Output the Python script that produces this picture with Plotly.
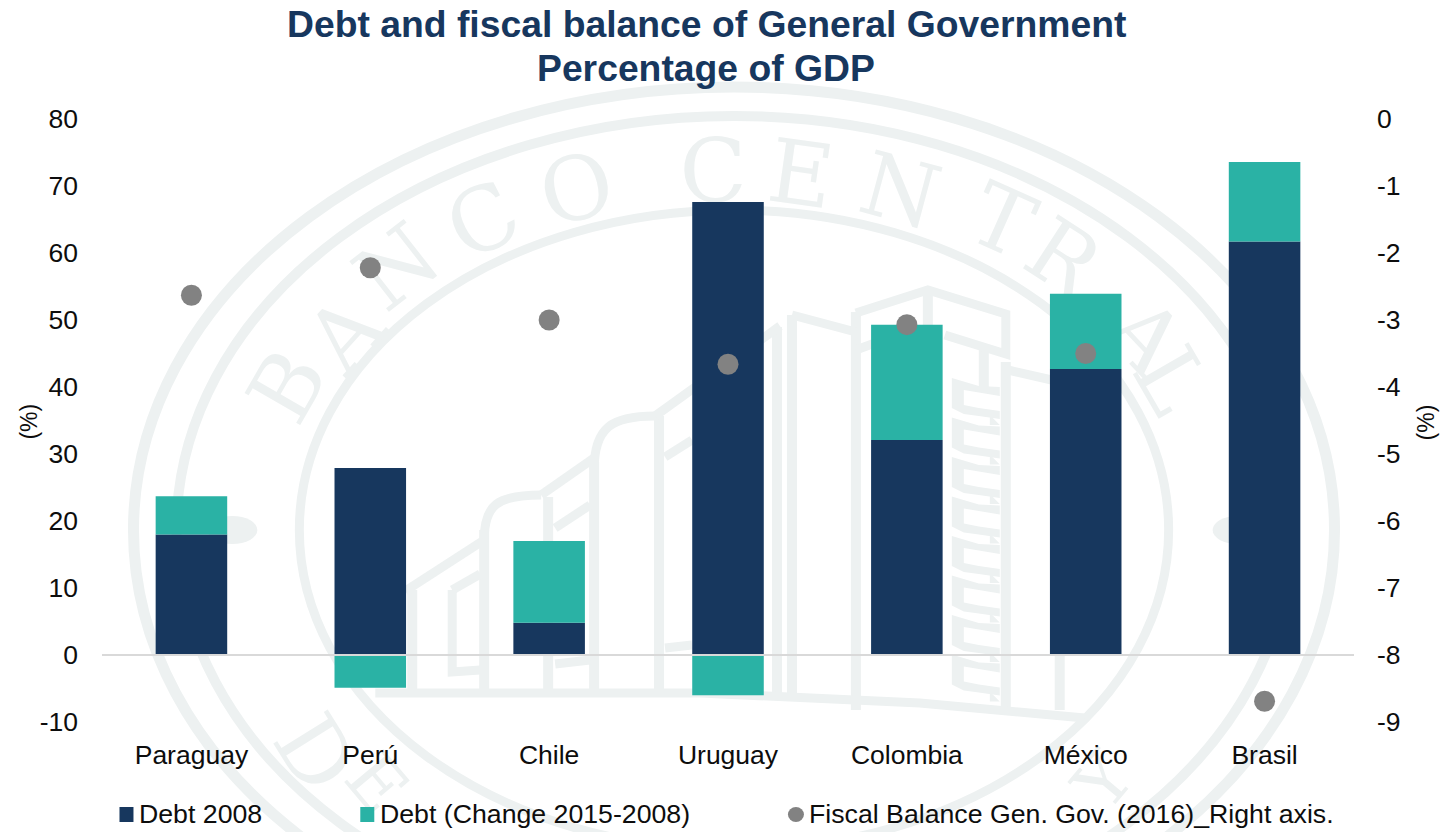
import plotly.graph_objects as go

# ---- chart data -------------------------------------------------------
countries = ["Paraguay", "Perú", "Chile", "Uruguay", "Colombia", "México", "Brasil"]
debt_2008 = [18.0, 27.9, 4.8, 67.6, 32.1, 42.7, 61.7]
debt_change = [5.7, -4.9, 12.2, -6.0, 17.2, 11.2, 11.9]
fiscal_balance = [-2.63, -2.22, -3.0, -3.66, -3.07, -3.5, -8.69]

series_names = ["Debt 2008", "Debt (Change 2015-2008)",
                "Fiscal Balance Gen. Gov. (2016)_Right axis."]
title_lines = ["Debt and fiscal balance of General Government", "Percentage of GDP"]
left_ticks = [-10, 0, 10, 20, 30, 40, 50, 60, 70, 80]
left_tick_labels = ["-10", "0", "10", "20", "30", "40", "50", "60", "70", "80"]
right_ticks = [-9, -8, -7, -6, -5, -4, -3, -2, -1, 0]
right_tick_labels = ["-9", "-8", "-7", "-6", "-5", "-4", "-3", "-2", "-1", "0"]
axis_unit = "(%)"

NAVY = "#17375e"
TEAL = "#2ab2a5"
GREY = "#828282"
SEAL = "#edf1f1"
INK = "#0d0d0d"
FONT = "Liberation Sans"
TICK_SIZE = 26.5

W, H = 1445, 832
L, R, T, B = 101.5, 90.5, 119, 110


def px(x):
    return (x - L) / (W - L - R)


def py(y):
    return 1 - (y - T) / (H - T - B)


def path(points, close=False):
    d = "M " + " L ".join(f"{px(x):.5f} {py(y):.5f}" for x, y in points)
    return d + (" Z" if close else "")


def curve(start, c1, c2, end):
    return (f"M {px(start[0]):.5f} {py(start[1]):.5f} "
            f"C {px(c1[0]):.5f} {py(c1[1]):.5f} {px(c2[0]):.5f} {py(c2[1]):.5f} "
            f"{px(end[0]):.5f} {py(end[1]):.5f}")


shapes = []


def stroke(d, width=9):
    shapes.append(dict(type="path", xref="paper", yref="paper", path=d, layer="below",
                       line=dict(color=SEAL, width=width)))


def ellipse(cx, cy, rx, ry, width=0, fill=None):
    shapes.append(dict(type="circle", xref="paper", yref="paper", layer="below",
                       x0=px(cx - rx), x1=px(cx + rx), y0=py(cy + ry), y1=py(cy - ry),
                       line=dict(color=SEAL, width=width), fillcolor=fill))


# ---- background seal: rings, side dots ---------------------------------
CX, CY = 734, 530
ellipse(CX, CY, 601, 443, width=11)
ellipse(CX, CY, 558, 414, width=10)
ellipse(CX, CY, 435, 320, width=9)
ellipse(232, CY, 25, 14, fill=SEAL)
ellipse(1238, CY, 25, 14, fill=SEAL)

# ---- background seal: lettering around the rings -----------------------
seal_letters = [
    ("B", 282, 383, -60, 88), ("A", 340, 330, -48, 88), ("N", 393, 262, -38, 88),
    ("C", 480, 215, -27, 88), ("O", 575, 183, -14, 88), ("C", 713, 165, -1, 88),
    ("E", 802, 168, 8, 88), ("N", 902, 185, 15, 88), ("T", 1005, 215, 24, 88),
    ("R", 1067, 253, 33, 88), ("A", 1150, 332, 47, 88), ("L", 1177, 377, 60, 88),
    ("D", 320, 750, 58, 88), ("E", 380, 780, 50, 70), ("Y", 1100, 778, -50, 70),
]
for ch, x, y, angle, size in seal_letters:
    shapes.append(dict(type="rect", xref="paper", yref="paper", layer="below",
                       x0=px(x - 40), x1=px(x + 40), y0=py(y + 40), y1=py(y - 40),
                       line=dict(width=0), fillcolor="rgba(0,0,0,0)",
                       label=dict(text=ch, textangle=angle, textposition="middle center",
                                  font=dict(family="DejaVu Serif", size=size, color=SEAL))))

# ---- background seal: building ------------------------------------------
base_y = 695
for x, top in [(412, 590), (484, 530), (548, 497), (594, 462), (659, 416),
               (777, 327), (792, 315), (856, 312), (1006, 362), (1060, 380)]:
    stroke(path([(x, top), (x, base_y if x < 800 else 710)]), 10)
stroke(path([(928, 290), (928, 330)]), 10)
stroke(path([(984, 345), (984, 388)]), 10)
stroke(path([(452, 590), (452, 672), (480, 670)]))
stroke(path([(405, 591), (484, 540)]))
stroke(path([(452, 590), (480, 574)]))
stroke(curve((484, 540), (484, 505), (497, 495), (541, 495)))
stroke(path([(541, 495), (594, 458)]))
stroke(curve((594, 470), (594, 427), (612, 416), (655, 416)))
stroke(path([(655, 416), (780, 326)]))
stroke(path([(555, 528), (590, 505)]))
stroke(path([(665, 457), (692, 440)]))
stroke(path([(555, 664), (590, 660)]))
stroke(path([(665, 648), (692, 645)]))
stroke(path([(792, 315), (856, 332)]))
stroke(path([(856, 350), (875, 343)]))
stroke(path([(856, 313), (928, 290), (1006, 314), (1006, 354), (945, 335)]))
stroke(path([(1004, 369), (1052, 380)]))
stroke(path([(375, 693), (700, 693), (920, 703), (1085, 718)]))

# stacked ribbon ornaments running down the tower's side
ribbon = [(0, 0), (27, 8), (48, 9), (48, 18), (12, 12), (12, 27), (27, 30),
          (48, 33), (48, 41), (27, 38), (12, 36), (0, 30)]
notch = [(38, 37), (48, 47), (38, 47)]
for k in range(8):
    y0 = 378 + 39.5 * k
    for outline in (ribbon, notch):
        shapes.append(dict(type="path", xref="paper", yref="paper", layer="below",
                           path=path([(952 + dx, y0 + dy) for dx, dy in outline], close=True),
                           fillcolor=SEAL, line=dict(width=0)))

# ---- zero line drawn over the bars ---------------------------------------
shapes.append(dict(type="line", xref="paper", yref="y", x0=0, x1=1, y0=0, y1=0,
                   layer="above", line=dict(color="#d9d9d9", width=2)))

# ---- legend row ----------------------------------------------------------
annotations = []
for (x0, x1), color, name, kind, text_x in zip(
        [(119, 133), (360, 374), (788, 804)], [NAVY, TEAL, GREY], series_names,
        ["rect", "rect", "circle"], [137, 378, 807]):
    shapes.append(dict(type=kind, xref="paper", yref="paper", x0=px(x0), x1=px(x1),
                       y0=py(822), y1=py(807), fillcolor=color, line=dict(width=0)))
    annotations.append(dict(xref="paper", yref="paper", x=px(text_x), y=py(814),
                            text=name, showarrow=False, xanchor="left", yanchor="middle",
                            font=dict(family=FONT, size=26.7, color=INK)))

# ---- title lines and axis units -------------------------------------------
for line, y in zip(title_lines, [24, 68]):
    annotations.append(dict(xref="paper", yref="paper", x=px(706), y=py(y), text=f"<b>{line}</b>",
                            showarrow=False, xanchor="center", yanchor="middle",
                            font=dict(family=FONT, size=37.3, color=NAVY)))
for x in [28, 1427]:
    annotations.append(dict(xref="paper", yref="paper", x=px(x), y=py(422), text=axis_unit,
                            textangle=-90, showarrow=False, xanchor="center", yanchor="middle",
                            font=dict(family=FONT, size=23, color=INK)))

fig = go.Figure()
fig.add_bar(x=countries, y=debt_2008, name=series_names[0], marker=dict(color=NAVY, line_width=0),
            width=0.4)
fig.add_bar(x=countries, y=debt_change, name=series_names[1], marker=dict(color=TEAL, line_width=0),
            width=0.4)
fig.add_scatter(x=countries, y=fiscal_balance, name=series_names[2], yaxis="y2", mode="markers",
                marker=dict(color=GREY, size=21))

fig.update_layout(
    width=W, height=H, autosize=False,
    margin=dict(l=L, r=R, t=T, b=B, pad=0),
    paper_bgcolor="white", plot_bgcolor="rgba(0,0,0,0)",
    barmode="relative", showlegend=False,
    font=dict(family=FONT, color=INK, size=26),
    xaxis=dict(range=[-0.5, 6.5], showgrid=False, zeroline=False, showline=False, ticks="",
               ticklabelstandoff=14, tickfont=dict(size=TICK_SIZE)),
    yaxis=dict(range=[-10, 80], tickmode="array", tickvals=left_ticks, ticktext=left_tick_labels,
               showgrid=False, zeroline=False, showline=False, ticks="", ticklabelstandoff=23,
               tickfont=dict(size=TICK_SIZE)),
    yaxis2=dict(range=[-9, 0], tickmode="array", tickvals=right_ticks, ticktext=right_tick_labels,
                overlaying="y", side="right", showgrid=False, zeroline=False, showline=False,
                ticks="", ticklabelstandoff=22, tickfont=dict(size=TICK_SIZE)),
    shapes=shapes, annotations=annotations,
)

fig.write_html("out.html")
